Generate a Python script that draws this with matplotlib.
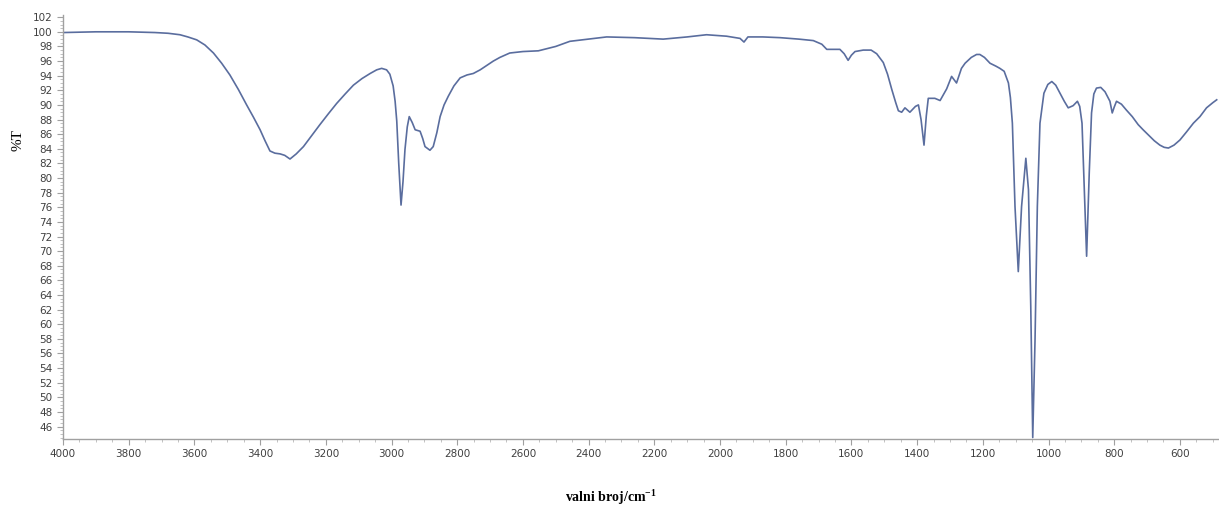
import numpy as np
import matplotlib
matplotlib.use("Agg")
import matplotlib.pyplot as plt
from matplotlib.ticker import MultipleLocator

# IR spectrum (wavenumber cm-1, %T)
wavenumber = [4000, 3900, 3800, 3720, 3680, 3644, 3620, 3593, 3568, 3542, 3517, 3492,
              3466, 3441, 3420, 3400, 3385, 3370, 3355, 3339, 3325, 3309, 3290, 3268,
              3243, 3218, 3192, 3167, 3141, 3116, 3090, 3065, 3045, 3030, 3015, 3005,
              2995, 2989, 2984, 2978, 2971, 2965, 2959, 2952, 2946, 2937, 2928, 2913,
              2905, 2898, 2883, 2873, 2862, 2852, 2840, 2827, 2810, 2791, 2770, 2751,
              2730, 2710, 2690, 2670, 2640, 2600, 2553, 2500, 2457, 2400, 2345, 2260,
              2173, 2100, 2041, 1980, 1939, 1927, 1915, 1870, 1817, 1760, 1716, 1690,
              1675, 1635, 1622, 1610, 1600, 1589, 1564, 1540, 1523, 1503, 1490, 1477,
              1465, 1457, 1447, 1437, 1422, 1405, 1396, 1388, 1379, 1372, 1366, 1346,
              1330, 1310, 1295, 1280, 1265, 1254, 1235, 1219, 1209, 1195, 1178, 1160,
              1148, 1135, 1122, 1116, 1110, 1102, 1092, 1082, 1069, 1061, 1054, 1048,
              1041, 1034, 1026, 1014, 1002, 990, 978, 965, 952, 940, 925, 912, 905,
              898, 891, 884, 876, 869, 862, 854, 841, 828, 813, 806, 800, 793, 778,
              763, 745, 727, 712, 696, 678, 661, 648, 635, 618, 600, 580, 559, 539,
              519, 500, 488]
transmittance = [99.9, 100.0, 100.0, 99.9, 99.8, 99.6, 99.3, 98.9, 98.2, 97.1, 95.7, 94.1,
                 92.1, 90.0, 88.3, 86.6, 85.1, 83.7, 83.4, 83.3, 83.1, 82.6, 83.3, 84.3,
                 85.8, 87.3, 88.8, 90.2, 91.5, 92.7, 93.6, 94.3, 94.8, 95.0, 94.8, 94.2,
                 92.6, 90.5, 87.8, 82.0, 76.3, 79.5, 83.9, 87.0, 88.4, 87.6, 86.6, 86.4,
                 85.4, 84.3, 83.8, 84.3, 86.2, 88.4, 90.0, 91.2, 92.6, 93.7, 94.1, 94.3,
                 94.8, 95.4, 96.0, 96.5, 97.1, 97.3, 97.4, 98.0, 98.7, 99.0, 99.3, 99.2,
                 99.0, 99.3, 99.6, 99.4, 99.1, 98.6, 99.3, 99.3, 99.2, 99.0, 98.8, 98.3,
                 97.6, 97.6, 97.0, 96.1, 96.8, 97.3, 97.5, 97.5, 97.0, 95.8, 94.2, 92.1,
                 90.3, 89.2, 89.0, 89.6, 89.0, 89.8, 90.0, 88.0, 84.5, 88.5, 90.9, 90.9,
                 90.6, 92.2, 93.9, 93.0, 95.0, 95.7, 96.5, 96.9, 96.9, 96.5, 95.7, 95.3,
                 95.0, 94.6, 93.0, 91.0, 87.5, 76.1, 67.2, 76.1, 82.7, 78.4, 62.4, 44.5,
                 57.9, 76.1, 87.5, 91.6, 92.8, 93.2, 92.7, 91.6, 90.5, 89.6, 89.9, 90.5,
                 89.8, 87.5, 78.4, 69.3, 80.7, 88.9, 91.5, 92.3, 92.4, 91.8, 90.5, 88.9,
                 89.7, 90.5, 90.1, 89.3, 88.4, 87.3, 86.6, 85.9, 85.1, 84.5, 84.2, 84.1,
                 84.5, 85.2, 86.3, 87.5, 88.4, 89.6, 90.3, 90.7]

fig = plt.figure(figsize=(12.19, 5.09), dpi=100)
ax = fig.add_axes([63 / 1219, 1 - 439 / 509, 1 - 63 / 1219, 424 / 509])

ax.plot(wavenumber, transmittance, color="#5a6d9e", linewidth=1.2)

ax.set_xlim(4000, 481)
ax.set_ylim(44.3, 102.3)
ax.set_xticks(np.arange(4000, 599, -200))
ax.set_yticks(np.arange(46, 103, 2))
ax.xaxis.set_minor_locator(MultipleLocator(50))
ax.yaxis.set_minor_locator(MultipleLocator(0.5))

for side in ["top", "right"]:
    ax.spines[side].set_visible(False)
for side in ["left", "bottom"]:
    ax.spines[side].set_color("#a0a0a0")
    ax.spines[side].set_linewidth(1.0)

ax.tick_params(which="major", direction="out", length=4, width=0.8, color="#a0a0a0",
               labelsize=7.5, labelcolor="#404040")
ax.tick_params(which="minor", direction="out", length=2, width=0.6, color="#b8b8b8")
ax.tick_params(axis="x", pad=3)

fig.text(18 / 1219, 1 - 140 / 509, "%T", rotation=90, ha="center", va="center",
         family="Liberation Serif", fontsize=11)
fig.text(611 / 1219, 1 - 497 / 509, "valni broj/cm$^{\\mathregular{-1}}$", ha="center",
         va="center", family="Liberation Serif", fontsize=10, fontweight="bold")

fig.savefig("out.png", dpi=100)
